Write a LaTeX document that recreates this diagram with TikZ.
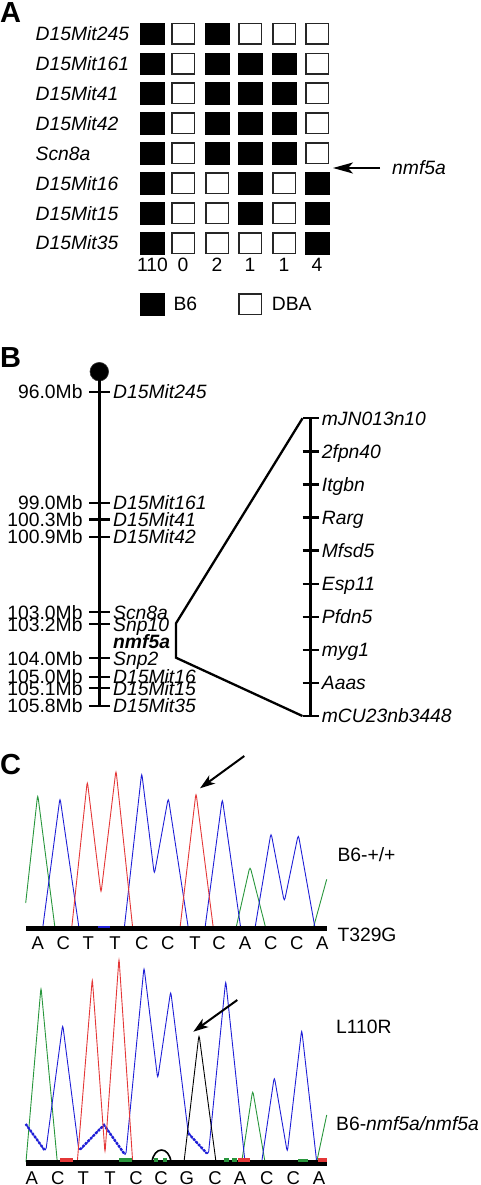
\documentclass[tikz,border=0pt]{standalone}
\usepackage{fontspec}
\setmainfont{Liberation Sans}
\usetikzlibrary{arrows.meta}
\definecolor{trG}{RGB}{40,150,60}
\definecolor{trB}{RGB}{30,30,215}
\definecolor{trR}{RGB}{228,55,55}
\tikzset{
  lab/.style={font=\fontsize{19.3}{19.3}\selectfont, inner sep=0pt},
  ilab/.style={font=\fontsize{19.3}{19.3}\selectfont\itshape, inner sep=0pt},
  blw/.style={anchor=base west, yshift=-6.9pt},
  ble/.style={anchor=base east, yshift=-6.9pt},
  blc/.style={anchor=base, yshift=-6.9pt},
  seqlab/.style={font=\fontsize{18.5}{18.5}\selectfont, inner sep=0pt, anchor=base, yshift=-6.6pt},
  panel/.style={font=\fontsize{29}{29}\selectfont\bfseries, inner sep=0pt, anchor=north west},
  bbox/.style={fill=black, draw=black, line width=0.5pt, minimum width=23.5pt, minimum height=21.5pt, inner sep=0pt},
  wbox/.style={fill=white, draw=black!85, line width=1.5pt, minimum width=22.5pt, minimum height=20.5pt, inner sep=0pt},
  chrom/.style={line width=2.5pt},
  tickline/.style={line width=2.3pt},
  bracket/.style={line width=2.3pt, line join=miter},
  trace/.style={line width=0.9pt, rounded corners=4pt},
  dotted trace/.style={line width=2.4pt, dash pattern=on 2.4pt off 1.3pt},
  bigarrow/.style={line width=2pt, -{Stealth[length=20pt,width=11pt,inset=5pt]}},
  smallarrow/.style={line width=2pt, -{Stealth[length=15pt,width=10pt,inset=4pt]}},
}
\begin{document}
\begin{tikzpicture}[x=1pt,y=-1pt]
\useasboundingbox (0,0) rectangle (480,1185);

% ---------------- Panel A ----------------
\node[panel] (pA) at (0,2) {A};
\foreach \yy/\lbl/\pat [count=\r] in {
  33.7/D15Mit245/{1,0,1,0,0,0},
  63.6/D15Mit161/{1,0,1,1,1,0},
  93.5/D15Mit41/{1,0,1,1,1,0},
  123.4/D15Mit42/{1,0,1,1,1,0},
  153.3/Scn8a/{1,0,1,1,1,0},
  183.2/D15Mit16/{1,0,0,1,0,1},
  213.1/D15Mit15/{1,0,0,1,0,1},
  243.0/D15Mit35/{1,0,0,0,0,1}}{
  \node[ilab, blw] (rl\r) at (35.5,\yy) {\lbl};
  \foreach \v [count=\c] in \pat {
    \pgfmathsetmacro\xx{{152,183,217,250,284,317}[\c-1]}
    \ifnum\v=1
      \node[bbox] (b\r-\c) at (\xx,\yy) {};
    \else
      \node[wbox] (b\r-\c) at (\xx,\yy) {};
    \fi
  }
}
\foreach \n [count=\c] in {110,0,2,1,1,4}{
  \pgfmathsetmacro\xx{{152.5,183,217,250,284,317}[\c-1]}
  \node[lab, blc] (cnt\c) at (\xx,265) {\n};
}
\node[bbox] (legB) at (152.2,304.2) {};
\node[lab, blw] (legBt) at (173.3,303.3) {B6};
\node[wbox] (legD) at (250.2,304.2) {};
\node[lab, blw] (legDt) at (271.7,303.3) {DBA};

\node[ilab, blw] (nmfA) at (392,167.5) {nmf5a};
\coordinate (arrAs) at (380,168);
\coordinate (arrAe) at (333,168);
\draw[bigarrow] (arrAs) -- (arrAe);

% ---------------- Panel B ----------------
\node[panel] (pB) at (0,347.5) {B};
\node[circle, fill=black, draw=black!80, line width=0.6pt, minimum size=18.6pt, inner sep=0pt] (cen) at (99.3,371.7) {};
\coordinate (chrBot) at (99.3,707);
\draw[chrom] (cen.center) -- (chrBot);
\foreach \yy/\mb/\mk [count=\i] in {
  391.7/96.0Mb/D15Mit245,
  502.7/99.0Mb/D15Mit161,
  519.5/100.3Mb/D15Mit41,
  536.7/100.9Mb/D15Mit42,
  612.3/103.0Mb/Scn8a,
  624.3/103.2Mb/Snp10,
  658.3/104.0Mb/Snp2,
  676.7/105.0Mb/D15Mit16,
  688.3/105.1Mb/D15Mit15,
  706/105.8Mb/D15Mit35}{
  \coordinate (tl\i) at (89,\yy);
  \coordinate (tr\i) at (110,\yy);
  \draw[tickline] (tl\i) -- (tr\i);
  \node[lab, ble] (mb\i) at (82.7,\yy) {\mb};
  \node[ilab, blw] (mk\i) at (113,\yy) {\mk};
}
\node[font=\fontsize{19.3}{19.3}\selectfont\bfseries\itshape, inner sep=0pt, blw] (nmfB) at (113,641.7) {nmf5a};

\foreach \mk [count=\i from 0] in {mJN013n10,2fpn40,Itgbn,Rarg,Mfsd5,Esp11,Pfdn5,myg1,Aaas,mCU23nb3448}{
  \pgfmathsetmacro\yy{418.3+33.08*\i}
  \coordinate (rl\i) at (302.5,\yy);
  \coordinate (rr\i) at (318.5,\yy);
  \draw[tickline] (rl\i) -- (rr\i);
  \node[ilab, blw] (rk\i) at (321.7,\yy) {\mk};
}
\coordinate (rcTop) at (310.7,417);
\coordinate (rcBot) at (310.7,717.2);
\draw[chrom] (rcTop) -- (rcBot);
\coordinate (brA) at (176,623.3);
\coordinate (brB) at (176,657.7);
\draw[bracket] (rl0) -- (brA) -- (brB) -- (rl9);

% ---------------- Panel C ----------------
\node[panel] (pC) at (0,754.5) {C};

% top chromatogram
\begin{scope}
\draw[trace, trG] (25.7,903) -- (37.7,794.2) -- (55,928);
\draw[trace, trG] (236,928) -- (250,866) -- (265.7,928);
\draw[trace, trG] (313.3,928) -- (326.7,879.3);
\draw[trace, trB] (42.7,928) -- (60,797.5) -- (79,928);
\draw[trace, trB] (124.3,928) -- (141.7,772.5) -- (154.3,874.5) -- (168.3,797.5) -- (188.3,928);
\draw[trace, trB] (205,928) -- (222.3,798.5) -- (240.7,928);
\draw[trace, trB] (255,928) -- (271,832.5) -- (284.3,902) -- (298.3,834.2) -- (315,928);
\draw[trace, trR] (71.7,928) -- (87.3,780.8) -- (101,893.5) -- (116,769.8) -- (132.7,928);
\draw[trace, trR] (180,928) -- (196,792.5) -- (213.3,928);
\fill[black] (25.7,925.6) rectangle (326.7,931);
\fill[trB] (98,925.6) rectangle (110,928);
\end{scope}
\foreach \lx/\lt [count=\i] in {37.7/A,63.3/C,88.3/T,115/T,141.7/C,167.7/C,195/T,219/C,245/A,270.7/C,296.7/C,322.3/A}{
  \node[seqlab] (s1\i) at (\lx,943.3) {\lt};
}
\coordinate (arrCs) at (244.3,756);
\coordinate (arrCe) at (200,788.3);
\draw[smallarrow] (arrCs) -- (arrCe);
\node[lab, blw] (wt) at (337.3,855) {B6-+/+};
\node[lab, blw] (mut1) at (337.3,935) {T329G};

% bottom chromatogram
\begin{scope}
\draw[trace, trG] (26,1162) -- (41,986.8) -- (57.3,1162);
\draw[trace, trG] (241.7,1162) -- (252.7,1090) -- (265,1162);
\draw[trace, trG] (316.7,1162) -- (326.7,1115);
\draw[trace, trB] (25.7,1124) -- (45.7,1152) -- (62.7,1024.2) -- (79,1151.5) -- (104,1124) -- (125.7,1156.5) -- (144,966.8) -- (157.7,1079) -- (170.7,990.8) -- (188.3,1133.3) -- (208.3,1155.5) -- (225.7,980.2) -- (245,1162);
\draw[trace, trB] (261.7,1162) -- (274.3,1076.5) -- (287.3,1152.5) -- (301.7,1029.2) -- (316.7,1162);
\draw[dotted trace, trB] (25.7,1124) -- (44.5,1150);
\draw[dotted trace, trB] (80,1149.5) -- (104,1125) -- (124.5,1154);
\draw[dotted trace, trB] (188.3,1133.3) -- (207,1153.5);
\draw[trace, trR] (77.3,1162) -- (92.3,978.2) -- (105,1153.2) -- (119,957.8) -- (132.7,1162);
\draw[trace, black] (184,1162) -- (199,1034.2) -- (216,1162);
\draw[line width=1.6pt, black] (152,1162) .. controls (154,1146) and (169,1146) .. (171,1162);
\fill[black] (25.7,1160.3) rectangle (326.7,1166.3);
\fill[trR] (60,1157.5) rectangle (73.3,1162);
\fill[trG] (119.3,1157.5) rectangle (131.7,1162);
\fill[trG] (154,1157.5) rectangle (158,1162);
\fill[trG] (163,1157.5) rectangle (167,1162);
\fill[trG] (224,1157.5) rectangle (229,1162);
\fill[trG] (232,1157.5) rectangle (237,1162);
\fill[trR] (238,1157.5) rectangle (250,1162);
\fill[trG] (298,1158.5) rectangle (308,1162);
\fill[trR] (318,1157.5) rectangle (326.7,1162);
\end{scope}
\foreach \lx/\lt [count=\i] in {31.7/A,57.7/C,83.3/T,110/T,136/C,161/C,186.7/G,215/C,240/A,266.7/C,293.3/C,319/A}{
  \node[seqlab] (s2\i) at (\lx,1177.6) {\lt};
}
\coordinate (arrDs) at (237.3,1000);
\coordinate (arrDe) at (193.3,1031.7);
\draw[smallarrow] (arrDs) -- (arrDe);
\node[lab, blw] (mut2) at (336,1026.7) {L110R};
\node[lab, blw] (hom) at (336,1123.3) {B6-\textit{nmf5a/nmf5a}};
\end{tikzpicture}
\end{document}
